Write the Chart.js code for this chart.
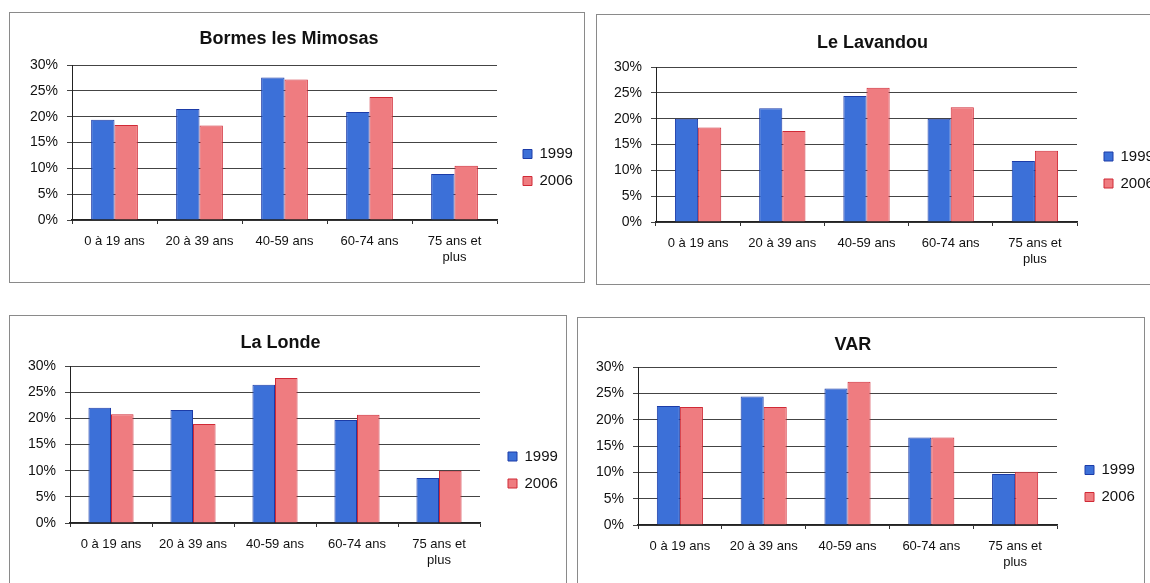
<!DOCTYPE html>
<html>
<head>
<meta charset="utf-8">
<script src="https://cdn.jsdelivr.net/npm/chart.js@4"></script>
<style>
  html, body { margin: 0; padding: 0; background: #fff; }
  body { width: 1150px; height: 583px; position: relative; overflow: hidden; }
  canvas { position: absolute; }
  .frame { position: absolute; box-sizing: border-box; border: 1px solid #8a8a8a; pointer-events: none; }
</style>
</head>
<body>
<canvas id="Chart1"></canvas>
<canvas id="Chart2"></canvas>
<canvas id="Chart3"></canvas>
<canvas id="Chart4"></canvas>

<script>
// categories and series
const ageGroups = ["0 à 19 ans", "20 à 39 ans", "40-59 ans", "60-74 ans", ["75 ans et", "plus"]];
const seriesYears = ["1999", "2006"];

// values in %
const bormes1999 = [19.4, 21.5, 27.6, 20.9, 8.9];
const bormes2006 = [18.4, 18.3, 27.2, 23.8, 10.5];
const lavandou1999 = [20.0, 22.0, 24.4, 20.0, 11.8];
const lavandou2006 = [18.3, 17.6, 26.0, 22.2, 13.8];
const londe1999 = [22.0, 21.6, 26.4, 19.7, 8.6];
const londe2006 = [20.8, 18.9, 27.7, 20.7, 10.0];
const var1999 = [22.6, 24.4, 25.9, 16.6, 9.7];
const var2006 = [22.4, 22.4, 27.2, 16.6, 10.1];

// y axis ticks
const yMax = 30;
const yStep = 5;

const FONT = "'Liberation Sans', Arial, sans-serif";
const LEGEND_SIZE = 15;
const LEGEND_PAD = 12;
const LEGEND_BOX = 9;

// page geometry of each panel: box [l, t, r, b], plot area [l, t, r, b]
const panels = [
  { id: "Chart1", title: "Bormes les Mimosas", a: bormes1999, b: bormes2006,
    box: [9, 12, 585, 283], plot: [72, 65, 497, 220], titleY: 39, legendX: 523, legendMid: 167.5 },
  { id: "Chart2", title: "Le Lavandou", a: lavandou1999, b: lavandou2006,
    box: [596, 14, 1162, 285], plot: [656, 67, 1077, 222], titleY: 43, legendX: 1104, legendMid: 170 },
  { id: "Chart3", title: "La Londe", a: londe1999, b: londe2006,
    box: [9, 315, 567, 600], plot: [70, 366, 480, 523], titleY: 343, legendX: 508, legendMid: 470 },
  { id: "Chart4", title: "VAR", a: var1999, b: var2006,
    box: [577, 317, 1145, 600], plot: [638, 367, 1057, 525], titleY: 345, legendX: 1085, legendMid: 483.5 }
];

// moves the legend after layout so it sits where the scan has it
const legendShift = {
  id: "legendShift",
  afterLayout(chart, args, opts) {
    const lg = chart.legend;
    if (!lg) return;
    lg.left += opts.dx;
    lg.right += opts.dx;
    lg.top += opts.dy;
    lg.bottom += opts.dy;
  }
};

function textWidth(txt, font) {
  const c = document.createElement("canvas").getContext("2d");
  c.font = font;
  return c.measureText(txt).width;
}

function buildChart(p) {
  const canvas = document.getElementById(p.id);
  const [bl, bt, br, bb] = p.box;
  const [pl, pt, pr, pb] = p.plot;
  const W = br - bl;
  const H = bb - bt;

  canvas.width = W;
  canvas.height = H;
  canvas.style.left = bl + "px";
  canvas.style.top = bt + "px";
  canvas.style.width = W + "px";
  canvas.style.height = H + "px";

  const frame = document.createElement("div");
  frame.className = "frame";
  frame.style.left = bl + "px";
  frame.style.top = bt + "px";
  frame.style.width = W + "px";
  frame.style.height = H + "px";
  document.body.appendChild(frame);

  const titleSize = 18;
  const titleLH = titleSize * 1.2;
  const titleTop = p.titleY - bt - titleLH / 2;
  const titleBottom = (pt - bt) - titleTop - titleLH;

  const legendFont = "normal " + LEGEND_SIZE + "px " + FONT;
  const tw = Math.max(...seriesYears.map(s => textWidth(s, legendFont)));
  const legendW = LEGEND_PAD + LEGEND_BOX + LEGEND_SIZE / 2 + tw + 10;
  const padRight = (br - pr) - legendW;

  const dx = p.legendX - (pr + LEGEND_PAD);
  const dy = p.legendMid - (bt + H / 2);

  return new Chart(canvas.getContext("2d"), {
    type: "bar",
    data: {
      labels: ageGroups,
      datasets: [
        {
          label: seriesYears[0],
          data: p.a,
          backgroundColor: "#3c70d8",
          borderColor: "#1c3ca8",
          borderWidth: 1
        },
        {
          label: seriesYears[1],
          data: p.b,
          backgroundColor: "#ef7c80",
          borderColor: "#d02a36",
          borderWidth: 1
        }
      ]
    },
    options: {
      responsive: false,
      animation: false,
      categoryPercentage: 0.55,
      barPercentage: 1.0,
      layout: {
        padding: { left: 0, top: 0, right: padRight, bottom: 0 }
      },
      plugins: {
        title: {
          display: true,
          text: p.title,
          color: "#111",
          font: { family: FONT, size: titleSize, weight: "bold", lineHeight: 1.2 },
          padding: { top: titleTop, bottom: titleBottom }
        },
        legend: {
          display: true,
          position: "right",
          labels: {
            color: "#111",
            font: { family: FONT, size: LEGEND_SIZE },
            boxWidth: LEGEND_BOX,
            boxHeight: LEGEND_BOX,
            padding: LEGEND_PAD
          }
        },
        tooltip: { enabled: false },
        legendShift: { dx: dx, dy: dy }
      },
      scales: {
        x: {
          grid: {
            display: true,
            drawOnChartArea: false,
            drawTicks: true,
            tickLength: 4,
            color: "#333"
          },
          border: { display: true, color: "#222", width: 1.5 },
          ticks: {
            color: "#111",
            font: { family: FONT, size: 13 },
            padding: 10,
            maxRotation: 0,
            autoSkip: false
          },
          afterFit: function(scale) {
            scale.height = bb - pb;
          }
        },
        y: {
          min: 0,
          max: yMax,
          grid: {
            color: "#444",
            lineWidth: 1,
            tickLength: 5
          },
          border: { display: true, color: "#222", width: 1 },
          ticks: {
            stepSize: yStep,
            color: "#111",
            font: { family: FONT, size: 14 },
            padding: 9,
            callback: function(value) {
              return value + "%";
            }
          },
          afterFit: function(scale) {
            scale.width = pl - bl;
          }
        }
      }
    },
    plugins: [legendShift]
  });
}

panels.forEach(buildChart);
</script>
</body>
</html>
